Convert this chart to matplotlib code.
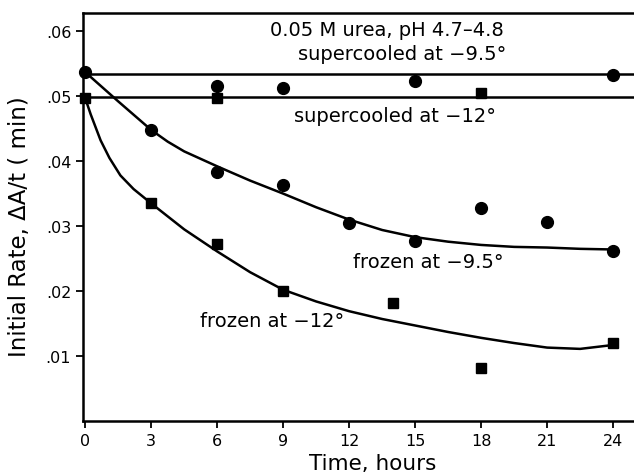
import matplotlib
matplotlib.use("Agg")
import matplotlib.pyplot as plt

# ---- data ----
# frozen at -9.5 (circles)
frz95_t = [0, 3, 6, 9, 12, 15, 18, 21, 24]
frz95_v = [0.0537, 0.0448, 0.0383, 0.0364, 0.0305, 0.0277, 0.0328, 0.0306, 0.0262]
# supercooled at -9.5 (circles)
sc95_t = [6, 9, 15, 24]
sc95_v = [0.0515, 0.0513, 0.0524, 0.0532]
sc95_level = 0.0534

# frozen at -12 (squares)
frz12_t = [0, 3, 6, 9, 14, 18, 24]
frz12_v = [0.0497, 0.0335, 0.0272, 0.0200, 0.0182, 0.0082, 0.0120]
# supercooled at -12 (squares)
sc12_t = [6, 18]
sc12_v = [0.0497, 0.0505]
sc12_level = 0.0498

# hand-drawn fitted curves
fit95_t = [0, 1.5, 3, 3.75, 4.5, 6, 7.5, 9, 10.5, 12, 13.5, 15, 16.5, 18, 19.5, 21, 22.5, 24]
fit95_v = [0.0537, 0.0492, 0.0448, 0.0430, 0.0415, 0.0392, 0.0370, 0.0350, 0.0329, 0.0310,
           0.0294, 0.0283, 0.0276, 0.0271, 0.0268, 0.0267, 0.0265, 0.0264]
fit12_t = [0, 0.25, 0.7, 1.1, 1.6, 2.2, 3, 4.5, 6, 7.5, 9, 10.5, 12, 13.5, 15,
           16.5, 18, 19.5, 21, 22.5, 24]
fit12_v = [0.0497, 0.0472, 0.0432, 0.0405, 0.0378, 0.0357, 0.0335, 0.0295, 0.0261,
           0.0229, 0.0202, 0.0184, 0.0169, 0.0157, 0.0147, 0.0137, 0.0128, 0.0120,
           0.0113, 0.0111, 0.0117]

xticks = [0, 3, 6, 9, 12, 15, 18, 21, 24]
yticks = [0.01, 0.02, 0.03, 0.04, 0.05, 0.06]
ytick_labels = [".01", ".02", ".03", ".04", ".05", ".06"]

fig = plt.figure(figsize=(6.34, 4.77), dpi=100)
ax = fig.add_axes([83 / 634, 1 - 422 / 477, 1 - 83 / 634, (422 - 14) / 477])

# horizontal supercooled lines
ax.plot([0, 25], [sc95_level, sc95_level], color="black", lw=1.8)
ax.plot([0, 25], [sc12_level, sc12_level], color="black", lw=1.8)

# fitted curves
ax.plot(fit95_t, fit95_v, color="black", lw=1.8)
ax.plot(fit12_t, fit12_v, color="black", lw=1.8)

# points
ax.plot(frz95_t, frz95_v, "o", color="black", ms=8.5, clip_on=False)
ax.plot(sc95_t, sc95_v, "o", color="black", ms=8.5, clip_on=False)
ax.plot(frz12_t, frz12_v, "s", color="black", ms=7.5, clip_on=False)
ax.plot(sc12_t, sc12_v, "s", color="black", ms=7.5, clip_on=False)

# annotations
fs = 14
ax.text(13.7, 0.0602, "0.05 M urea, pH 4.7\u20134.8", ha="center", va="center", fontsize=fs)
ax.text(14.4, 0.0565, "supercooled at \u22129.5\u00b0", ha="center", va="center", fontsize=fs)
ax.text(14.1, 0.0470, "supercooled at \u221212\u00b0", ha="center", va="center", fontsize=fs)
ax.text(15.6, 0.0245, "frozen at \u22129.5\u00b0", ha="center", va="center", fontsize=fs)
ax.text(8.5, 0.0154, "frozen at \u221212\u00b0", ha="center", va="center", fontsize=fs)

ax.set_xlim(-0.1, 24.95)
ax.set_ylim(0, 0.0628)
ax.set_xticks(xticks)
ax.set_yticks(yticks)
ax.set_yticklabels(ytick_labels)
ax.tick_params(direction="out", length=5, width=1.3, labelsize=11.5, colors="black")
ax.spines["right"].set_visible(False)
for s in ["left", "bottom", "top"]:
    ax.spines[s].set_linewidth(1.8)

ax.set_xlabel("Time, hours", fontsize=15.5)
ax.xaxis.set_label_coords(0.526, -0.078)
ax.set_ylabel("Initial Rate, \u0394A/t ( min)", fontsize=16.5)
ax.yaxis.set_label_coords(-0.094, 0.48)

fig.savefig("out.png", dpi=100)
